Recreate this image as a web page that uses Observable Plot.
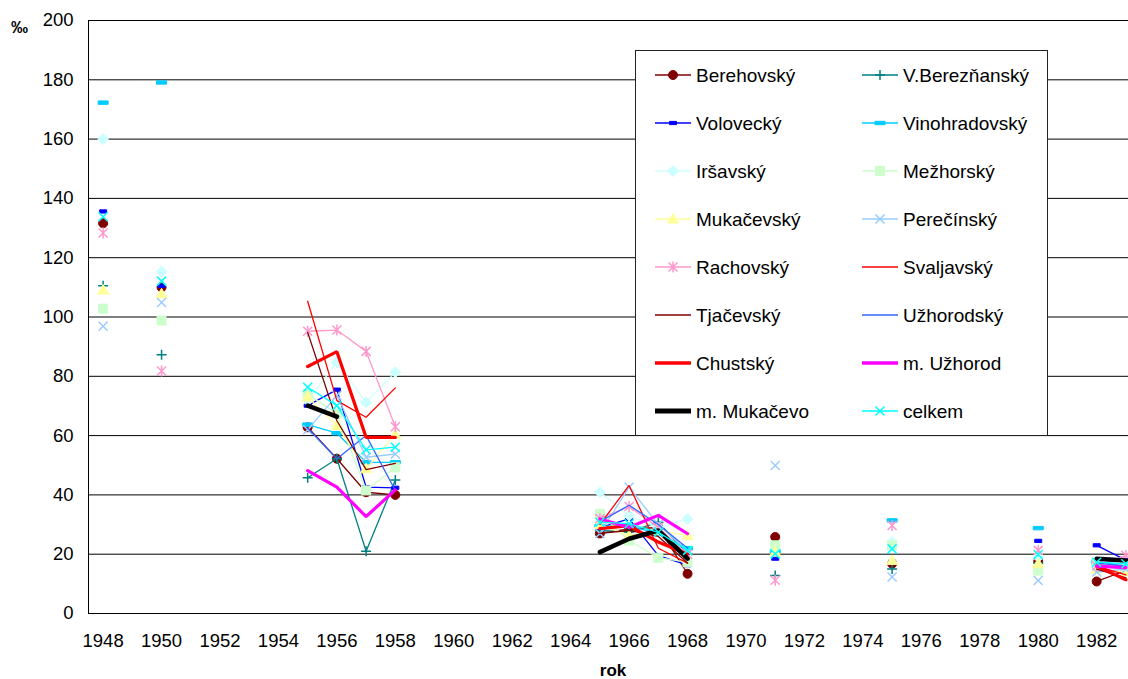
<!DOCTYPE html>
<html>
<head>
<meta charset="utf-8">
<script src="https://cdn.jsdelivr.net/npm/d3@7"></script>
<script src="https://cdn.jsdelivr.net/npm/@observablehq/plot@0.6"></script>
<style>
  html, body { margin: 0; padding: 0; overflow: hidden; background: #fff; }
  #wrap { position: relative; width: 1128px; height: 679px; font-family: "Liberation Sans", Arial, sans-serif; }
  #legend { position: absolute; left: 635px; top: 50px; width: 411px; height: 384px; border: 1px solid #222; background: #fff; }
  .lbl { position: absolute; font-weight: bold; color: #000; }
</style>
</head>
<body>
<div id="wrap">
  <div id="chart"></div>
  <div id="legend"></div>
  <div class="lbl" style="left:11px;top:18px;font-size:17px;">‰</div>
  <div class="lbl" style="left:593px;top:661px;width:40px;text-align:center;font-size:17px;">rok</div>
</div>
<script>
// ---- data ----
const years = [1948, 1950, 1955, 1956, 1957, 1958, 1965, 1966, 1967, 1968, 1971, 1975, 1980, 1982, 1983];
const xTicks = [1948, 1950, 1952, 1954, 1956, 1958, 1960, 1962, 1964, 1966, 1968, 1970, 1972, 1974, 1976, 1978, 1980, 1982];
const yTicks = [0, 20, 40, 60, 80, 100, 120, 140, 160, 180, 200];

const seriesNames = ["Berehovský", "V.Berezňanský", "Volovecký", "Vinohradovský", "Iršavský", "Mežhorský",
  "Mukačevský", "Perečínský", "Rachovský", "Svaljavský", "Tjačevský", "Užhorodský",
  "Chustský", "m. Užhorod", "m. Mukačevo", "celkem"];

const berehovsky    = [131.6, 110.0, 62.8, 52.2, 40.9, 40.0, 27.0, 28.5, 29.0, 13.4, 25.8, 16.8, 17.5, 10.8, 14.5];
const vBereznansky  = [110.5,  87.3, 45.8, 52.2, 21.0, 45.0, 28.0, 27.5, 30.8, 20.0, 12.8, 15.0, 17.0, 16.5, 15.0];
const volovecky     = [135.6, 110.5, 70.1, 75.5, 42.6, 42.4, 29.0, 31.9, 19.5, 16.3, 18.5, 17.5, 24.5, 23.0, 18.0];
const vinohradovsky = [172.3, 179.1, 63.7, 60.8, 51.0, 51.0, 29.5, 29.5, 27.0, 22.0, 21.0, 31.4, 28.8, 17.5, 16.0];
const irsavsky      = [160.0, 115.3, 71.8, 84.7, 71.2, 81.4, 40.9, 33.0, 29.0, 31.9, 22.0, 24.1, 19.0, 16.0, 15.0];
const mezhorsky     = [102.8,  98.8, 74.0, 67.4, 41.5, 49.3, 33.6, 24.6, 18.8, 17.3, 23.0, 23.0, 14.5, 17.0, 15.0];
const mukacevsky    = [109.1, 107.8, 73.0, 63.4, 48.8, 60.4, 30.0, 26.3, 28.0, 26.3, 20.7, 17.9, 16.8, 15.0, 14.0];
const perecinsky    = [ 96.9, 104.9, 62.0, 73.5, 52.7, 53.8, 27.0, 42.6, 30.0, 21.0, 49.9, 12.3, 11.1, 14.0, 15.0];
const rachovsky     = [128.3,  81.8, 95.2, 95.6, 88.4, 63.0, 32.0, 36.1, 29.0, 20.0, 11.2, 29.7, 21.3, 16.0, 19.6];
const svaljavsky    = [null,   null, 105.3, 71.8, 66.2, 76.1, 30.0, 43.2, 22.0, 17.0, null, null, null, 16.0, 13.0];
const tjacevsky     = [null,   null, 94.8, 65.0, 48.5, 50.6, 27.0, 28.0, 26.0, 17.0, null, null, null, 15.0, 12.0];
const uzhorodsky    = [null,   null, 62.5, 52.2, 60.0, 41.5, 31.0, 36.5, 30.0, 22.0, null, null, null, 17.0, 16.0];
const chustsky      = [null,   null, 83.3, 88.3, 59.4, 59.4, 28.6, 29.6, 24.1, 20.0, null, null, null, 16.0, 11.4];
const mUzhorod      = [null,   null, 48.2, 42.6, 32.7, 41.7, 31.9, 29.1, 33.1, 26.9, null, null, null, 16.0, 15.5];
const mMukacevo     = [null,   null, 70.1, 66.4, null, null, 20.7, 25.2, 28.0, 18.5, null, null, null, 18.5, 17.9];
const celkem        = [133.8, 112.1, 76.3, 70.1, 55.2, 56.1, 30.8, 30.3, 27.4, 21.3, 20.1, 21.8, 19.9, 17.3, 16.8];

const seriesValues = [berehovsky, vBereznansky, volovecky, vinohradovsky, irsavsky, mezhorsky, mukacevsky,
  perecinsky, rachovsky, svaljavsky, tjacevsky, uzhorodsky, chustsky, mUzhorod, mMukacevo, celkem];

const seriesColors = ["#800000", "#008080", "#0000FF", "#00CCFF", "#CCFFFF", "#CCFFCC", "#FFFF99", "#99CCFF",
  "#FF99CC", "#FF0000", "#800000", "#3366FF", "#FF0000", "#FF00FF", "#000000", "#00FFFF"];
const seriesWidths = [1.3, 1.3, 1.3, 1.3, 1.3, 1.3, 1.3, 1.3, 1.3, 1.3, 1.3, 1.3, 3.2, 3.2, 4.5, 1.3];
const seriesMarkers = ["circle", "plus", "dashS", "dashL", "diamond", "square", "triangle", "times",
  "asterisk", null, null, null, null, null, null, "times"];

// ---- marker shapes ----
const sym = {
  circle:   {draw(c) { c.moveTo(4.5, 0); c.arc(0, 0, 4.5, 0, 2 * Math.PI); }},
  plus:     {draw(c) { c.moveTo(-5, 0); c.lineTo(5, 0); c.moveTo(0, -5); c.lineTo(0, 5); }},
  dashS:    {draw(c) { c.rect(-3.5, -1.6, 7, 3.2); }},
  dashL:    {draw(c) { c.rect(-5, -1.7, 10, 3.4); }},
  diamond:  {draw(c) { c.moveTo(0, -5.5); c.lineTo(5.5, 0); c.lineTo(0, 5.5); c.lineTo(-5.5, 0); c.closePath(); }},
  square:   {draw(c) { c.rect(-4.5, -4.5, 9, 9); }},
  triangle: {draw(c) { c.moveTo(0, -5.5); c.lineTo(5.5, 4); c.lineTo(-5.5, 4); c.closePath(); }},
  times:    {draw(c) { c.moveTo(-4.5, -4.5); c.lineTo(4.5, 4.5); c.moveTo(4.5, -4.5); c.lineTo(-4.5, 4.5); }},
  asterisk: {draw(c) { c.moveTo(-4.5, -4.5); c.lineTo(4.5, 4.5); c.moveTo(4.5, -4.5); c.lineTo(-4.5, 4.5); c.moveTo(0, -5.5); c.lineTo(0, 5.5); }}
};
const strokedMarkers = new Set(["plus", "times", "asterisk"]);

// ---- build rows (nulls make gaps between non-consecutive years) ----
const allYears = d3.range(1948, 1984);
const seriesRows = seriesValues.map(vals => allYears.map(yr => {
  const i = years.indexOf(yr);
  return {year: yr, value: i >= 0 ? vals[i] : null};
}));

const marks = [
  Plot.ruleY(yTicks.slice(1), {stroke: "#000", strokeWidth: 1}),
  Plot.ruleY([0], {stroke: "#000", strokeWidth: 1}),
  Plot.ruleX([1947.5], {stroke: "#000", strokeWidth: 1}),
  Plot.axisX({ticks: xTicks, tickFormat: d => String(d), tickSize: 0, tickPadding: 20, fontSize: 18.5, label: null}),
  Plot.axisY({ticks: yTicks, tickFormat: d => String(d), tickSize: 0, tickPadding: 15, fontSize: 18.5, label: null})
];

seriesRows.forEach((rows, k) => {
  marks.push(Plot.line(rows, {x: "year", y: "value", stroke: seriesColors[k], strokeWidth: seriesWidths[k], strokeLinejoin: "miter"}));
  const m = seriesMarkers[k];
  if (m) {
    const pts = rows.filter(d => d.value != null);
    const stroked = strokedMarkers.has(m);
    marks.push(Plot.dot(pts, {
      x: "year", y: "value", symbol: sym[m], r: 5,
      fill: stroked ? "none" : seriesColors[k],
      stroke: seriesColors[k], strokeWidth: stroked ? 1.5 : 1
    }));
  }
});

const chart = Plot.plot({
  width: 1128, height: 679,
  marginLeft: 88, marginRight: 0, marginTop: 20, marginBottom: 66,
  style: {fontFamily: "'Liberation Sans', Arial, sans-serif", fontSize: "18.5px", color: "#000", background: "#fff"},
  x: {domain: [1947.5, 1983.5], range: [88, 1140]},
  y: {domain: [0, 200], range: [613, 20]},
  marks
});
document.getElementById("chart").appendChild(chart);

// ---- legend ----
const leg = d3.select("#legend").append("svg").attr("width", 411).attr("height", 384)
  .style("font-family", "'Liberation Sans', Arial, sans-serif");
seriesNames.forEach((name, i) => {
  const col = i % 2, row = Math.floor(i / 2);
  const x0 = col === 0 ? 19 : 226;
  const y = 24 + row * 48;
  const g = leg.append("g");
  g.append("line").attr("x1", x0).attr("x2", x0 + 36).attr("y1", y).attr("y2", y)
    .attr("stroke", seriesColors[i]).attr("stroke-width", i === 14 ? 5 : seriesWidths[i] > 2 ? 3.5 : 1.3);
  const m = seriesMarkers[i];
  if (m) {
    const stroked = strokedMarkers.has(m);
    g.append("path").attr("d", d3.symbol(sym[m])()).attr("transform", `translate(${x0 + 18},${y})`)
      .attr("fill", stroked ? "none" : seriesColors[i]).attr("stroke", seriesColors[i])
      .attr("stroke-width", stroked ? 1.5 : 1);
  }
  g.append("text").attr("x", x0 + 41).attr("y", y).attr("dy", "0.35em")
    .attr("font-size", 19).attr("fill", "#000").text(name);
});
</script>
</body>
</html>
